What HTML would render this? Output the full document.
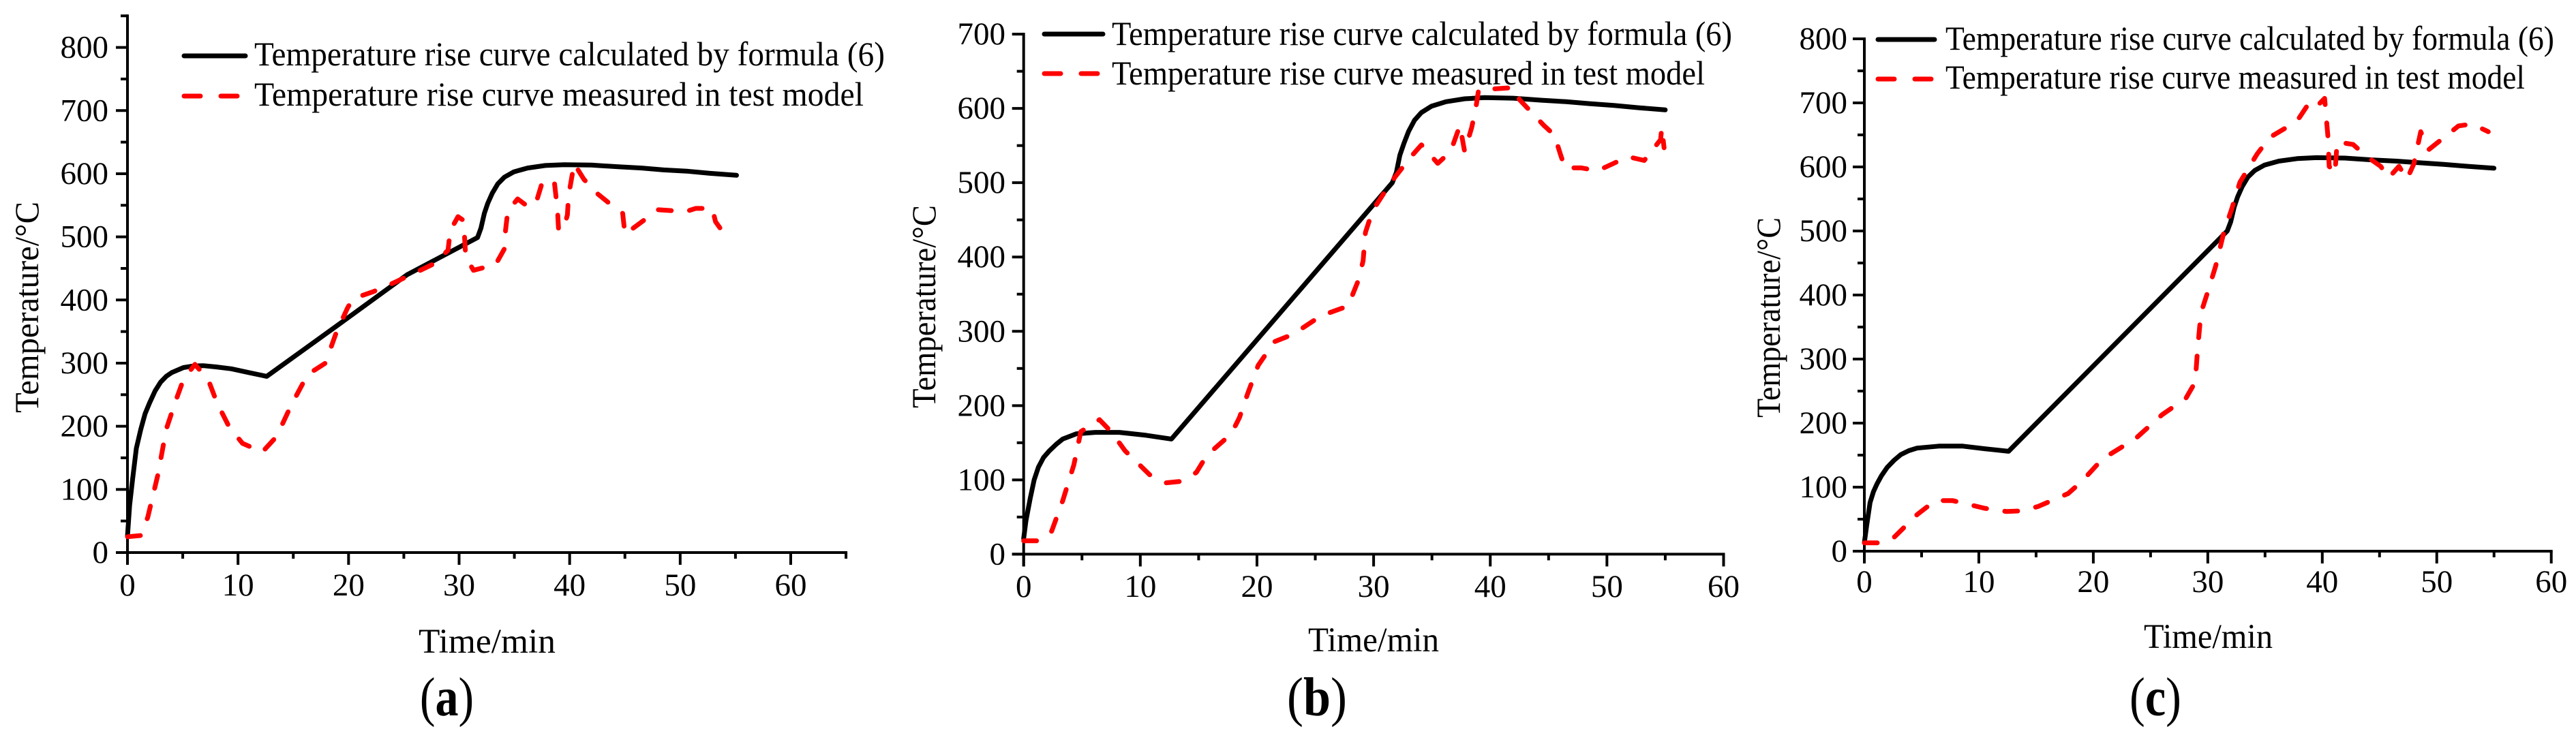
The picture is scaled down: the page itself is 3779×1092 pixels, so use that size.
<!DOCTYPE html>
<html lang="en">
<head>
<meta charset="utf-8">
<title>Temperature rise curves</title>
<style>
html,body{margin:0;padding:0;background:#fff;}
body{width:3779px;height:1092px;overflow:hidden;}
svg{display:block;position:absolute;left:0;top:0;}
text{font-family:"Liberation Serif","Times New Roman",serif;fill:#000;}
</style>
</head>
<body>
<svg id="figure" xmlns="http://www.w3.org/2000/svg" width="3779" height="1092" viewBox="0 0 3779 1092">
  <rect width="3779" height="1092" fill="#fff"/>

  <g id="panel-a">
    <text transform="translate(56,451) rotate(-90)" text-anchor="middle" font-size="50" textLength="310" lengthAdjust="spacingAndGlyphs">Temperature/°C</text>
    <text x="614" y="958" font-size="51" textLength="201" lengthAdjust="spacingAndGlyphs">Time/min</text>
    <line x1="270" y1="82" x2="360" y2="82" stroke="#000" stroke-width="7" stroke-linecap="round"/>
    <text x="373" y="96" font-size="50" textLength="925" lengthAdjust="spacingAndGlyphs">Temperature rise curve calculated by formula (6)</text>
    <line x1="270" y1="141" x2="360" y2="141" stroke="#f00" stroke-width="7" stroke-linecap="round" stroke-dasharray="24 30"/>
    <text x="373" y="155" font-size="50" textLength="894" lengthAdjust="spacingAndGlyphs">Temperature rise curve measured in test model</text>
    <text transform="translate(655.5,1050) scale(.85,1)" text-anchor="middle" font-size="80">(<tspan font-weight="bold">a</tspan>)</text>
  </g>

  <g id="panel-b">
    <text transform="translate(1372,450) rotate(-90)" text-anchor="middle" font-size="50" textLength="298" lengthAdjust="spacingAndGlyphs">Temperature/°C</text>
    <text x="1919" y="956" font-size="51" textLength="192" lengthAdjust="spacingAndGlyphs">Time/min</text>
    <line x1="1532" y1="50" x2="1618" y2="50" stroke="#000" stroke-width="7" stroke-linecap="round"/>
    <text x="1631" y="66" font-size="50" textLength="910" lengthAdjust="spacingAndGlyphs">Temperature rise curve calculated by formula (6)</text>
    <line x1="1532" y1="108" x2="1618" y2="108" stroke="#f00" stroke-width="7" stroke-linecap="round" stroke-dasharray="24 30"/>
    <text x="1631" y="124" font-size="50" textLength="870" lengthAdjust="spacingAndGlyphs">Temperature rise curve measured in test model</text>
    <text transform="translate(1932,1050) scale(.9,1)" text-anchor="middle" font-size="80">(<tspan font-weight="bold">b</tspan>)</text>
  </g>

  <g id="panel-c">
    <text transform="translate(2611,466) rotate(-90)" text-anchor="middle" font-size="50" textLength="294" lengthAdjust="spacingAndGlyphs">Temperature/°C</text>
    <text x="3145" y="951" font-size="51" textLength="189" lengthAdjust="spacingAndGlyphs">Time/min</text>
    <line x1="2755" y1="58" x2="2838" y2="58" stroke="#000" stroke-width="7" stroke-linecap="round"/>
    <text x="2854" y="73" font-size="50" textLength="893" lengthAdjust="spacingAndGlyphs">Temperature rise curve calculated by formula (6)</text>
    <line x1="2755" y1="116" x2="2838" y2="116" stroke="#f00" stroke-width="7" stroke-linecap="round" stroke-dasharray="24 30"/>
    <text x="2854" y="130" font-size="50" textLength="850" lengthAdjust="spacingAndGlyphs">Temperature rise curve measured in test model</text>
    <text transform="translate(3162,1050) scale(.855,1)" text-anchor="middle" font-size="80">(<tspan font-weight="bold">c</tspan>)</text>
  </g>
</svg>

<script>
// Tick labels
const xTicksAB = [0, 10, 20, 30, 40, 50, 60];
const yTicksA = [0, 100, 200, 300, 400, 500, 600, 700, 800];
const yTicksB = [0, 100, 200, 300, 400, 500, 600, 700];
const yTicksC = [0, 100, 200, 300, 400, 500, 600, 700, 800];

// Panel (a)
const calcTimeA = [0, 0.2, 0.46, 0.8, 1.2, 1.6, 2, 2.5, 3, 3.5, 4, 5.06, 6, 6.85, 8, 9.4, 11, 12.6, 19.1, 25.3, 31.67, 31.98, 32.28, 32.59, 33, 33.5, 34.1, 34.96, 36.2, 37.8, 39.5, 41.96, 44.4, 46.5, 48.5, 50.6, 52.7, 55.1];
const calcTempA = [26, 75, 116, 165, 195, 220, 237, 256, 270, 279, 285, 293, 295.5, 296, 294, 291, 285, 279, 361, 440, 499, 514, 537, 553, 569, 584, 594.5, 603, 609, 613, 614.3, 613.6, 611, 609, 606, 604, 600.6, 597.5];
const measTimeA = [0, 1.2, 1.84, 2.76, 3.5, 4.3, 5.06, 6.1, 7.3, 8.1, 9.2, 10.4, 12.2, 13.5, 14.8, 16.3, 17.9, 18.9, 19.9, 20.4, 22.2, 23.7, 26.5, 27.8, 29, 29.2, 29.9, 30.4, 30.5, 30.6, 31.3, 33.3, 34.1, 34.2, 34.4, 35.3, 36.3, 37, 37.5, 38.6, 38.9, 39, 39.5, 39.8, 39.9, 40.4, 41.3, 42.4, 43.6, 44.8, 45, 48, 50.5, 51.4, 52.9, 53.2, 54.1];
const measTempA = [25, 27, 56, 124, 195, 237, 274, 298, 274, 237, 199, 173, 159, 184, 233, 282, 300, 349, 387, 402, 413, 424, 447, 458, 479, 510, 532, 526, 498, 468, 447, 456, 481, 510, 541, 560, 547, 556, 585, 589, 543, 510, 515, 535, 564, 616, 591, 570, 553, 537, 504, 543, 540, 545, 545, 524, 502];

// Panel (b)
const calcTimeB = [0, 0.2, 0.56, 0.9, 1.26, 1.7, 2.2, 2.8, 3.35, 4.5, 6.15, 8.2, 10.5, 12.67, 31.6, 31.95, 32.25, 32.6, 33, 33.5, 34.1, 34.96, 36.2, 37.8, 39.5, 41.96, 44.4, 46.5, 48.5, 50.6, 52.7, 55];
const calcTempB = [21, 45, 75, 100, 117, 130, 139, 148, 155, 162, 164, 164, 160, 155, 500, 514, 537, 553, 569, 584, 594.5, 603, 609, 613, 614.5, 613.8, 611, 609, 606.5, 604, 601, 598];
const measTimeB = [0, 1.4, 2.4, 3.35, 4.3, 4.9, 6.5, 7.5, 8.7, 10.8, 12.2, 13.5, 14.8, 15.7, 17.8, 18.5, 19.2, 20.1, 21.5, 23.1, 25.5, 27.8, 28.7, 29.1, 29.3, 29.9, 30.8, 31.8, 33.2, 34.1, 35.5, 36.6, 37.4, 37.8, 38.4, 38.75, 39, 42, 42.5, 44.6, 45.5, 46, 46.4, 47.8, 49.2, 51.8, 53.2, 54.6, 54.7, 54.9];
const measTempB = [18, 18, 31, 72, 120, 165, 181, 165, 139, 107, 96, 98, 110, 133, 162, 184, 216, 254, 286, 296, 321, 334, 369, 395, 433, 462, 484, 507, 535, 551, 526, 542, 577, 542, 574, 599, 625, 628, 612, 577, 564, 539, 520, 520, 516, 535, 530, 558, 574, 547];

// Panel (c)
const calcTimeC = [0, 0.2, 0.5, 0.8, 1.1, 1.5, 2, 2.6, 3.2, 3.9, 4.6, 6.5, 8.6, 10.5, 12.6, 31.7, 32, 32.3, 32.6, 33, 33.5, 34.1, 34.96, 36.2, 37.8, 39.5, 41.96, 44.4, 46.5, 48.5, 50.6, 52.7, 55];
const calcTempC = [13, 40, 76, 93, 105, 118, 131, 142, 151, 157, 161, 164, 164, 160, 156, 500, 514, 537, 553, 569, 584, 594.5, 603, 609, 613, 614.5, 613.8, 611, 609, 606.5, 604, 601, 598];
const measTimeC = [0, 1.3, 2.5, 4.6, 6.2, 7.7, 10.5, 12.4, 13.8, 15.2, 17.8, 19, 20.8, 23.7, 26, 28.1, 28.9, 29.1, 29.4, 30, 30.7, 31.4, 32.1, 32.8, 34.3, 35.4, 37.1, 38, 39, 39.7, 40.2, 40.5, 40.6, 41.1, 41.3, 42.7, 43.9, 45.1, 45.8, 46.7, 47.4, 48, 48.6, 49.3, 51.9, 53.1, 54.5];
const measTempC = [13, 13, 20, 57, 79, 79, 67, 62, 63, 70, 90, 109, 144, 176, 213, 239, 264, 313, 372, 405, 446, 498, 535, 576, 620, 646, 664, 677, 704, 698, 707, 646, 601, 589, 639, 635, 616, 601, 583, 601, 581, 605, 655, 627, 664, 667, 655];

const SVGNS = 'http://www.w3.org/2000/svg';

function drawPanel(id, layout, xTicks, yTicks, calcT, calcV, measT, measV) {
  const host = document.getElementById(id);
  const xScale = v => layout.x0 + (v - 0) * (layout.x60 - layout.x0) / 60;
  const yScale = v => layout.y0 + (v - 0) * (layout.yRef - layout.y0) / layout.refValue;

  const axisStyle = (el) => {
    el.setAttribute('stroke', '#000');
    el.setAttribute('stroke-width', '4');
    host.appendChild(el);
  };

  const xAxis = document.createElementNS(SVGNS, 'line');
  
  
  xAxis.setAttribute('x1', layout.x0 - 17);
  xAxis.setAttribute('x2', xScale(layout.xMax) + 2);
  xAxis.setAttribute('y1', layout.y0);
  xAxis.setAttribute('y2', layout.y0);
  axisStyle(xAxis);

  const yAxis = document.createElementNS(SVGNS, 'line');
  
  
  yAxis.setAttribute('x1', layout.x0);
  yAxis.setAttribute('x2', layout.x0);
  yAxis.setAttribute('y1', layout.y0 + 18);
  yAxis.setAttribute('y2', yScale(layout.yMax) - 2);
  axisStyle(yAxis);

  // x ticks: labelled major ticks and minor ticks halfway between them
  for (let v = 0; v <= layout.xMax; v += 5) {
    const major = v % 10 === 0;
    const tick = document.createElementNS(SVGNS, 'line');
    
    
    tick.setAttribute('x1', xScale(v));
    tick.setAttribute('x2', xScale(v));
    tick.setAttribute('y1', layout.y0);
    tick.setAttribute('y2', layout.y0 + (major ? 18 : 9));
    axisStyle(tick);
  }
  xTicks.forEach(v => {
    const label = document.createElementNS(SVGNS, 'text');
    
    
    label.setAttribute('x', xScale(v));
    label.setAttribute('y', layout.xLabelY);
    label.setAttribute('text-anchor', 'middle');
    label.setAttribute('font-size', '47');
    label.textContent = v;
    host.appendChild(label);
  });

  // y ticks
  for (let v = 0; v <= layout.yMax; v += 50) {
    const major = v % 100 === 0;
    const tick = document.createElementNS(SVGNS, 'line');
    
    
    tick.setAttribute('x1', layout.x0 - (major ? 17 : 10));
    tick.setAttribute('x2', layout.x0);
    tick.setAttribute('y1', yScale(v));
    tick.setAttribute('y2', yScale(v));
    axisStyle(tick);
  }
  yTicks.forEach(v => {
    const label = document.createElementNS(SVGNS, 'text');
    
    
    label.setAttribute('x', layout.yLabelX);
    label.setAttribute('y', yScale(v) + 15);
    label.setAttribute('text-anchor', 'end');
    label.setAttribute('font-size', '47');
    label.textContent = v;
    host.appendChild(label);
  });

  // series
  const calcLine = document.createElementNS(SVGNS, 'polyline');
  
  
  calcLine.setAttribute('points', calcT.map((t, i) => xScale(t).toFixed(1) + ',' + yScale(calcV[i]).toFixed(1)).join(' '));
  calcLine.setAttribute('fill', 'none');
  calcLine.setAttribute('stroke', '#000');
  calcLine.setAttribute('stroke-width', '7');
  calcLine.setAttribute('stroke-linejoin', 'round');
  calcLine.setAttribute('stroke-linecap', 'round');
  host.appendChild(calcLine);

  const measLine = document.createElementNS(SVGNS, 'polyline');
  
  
  measLine.setAttribute('points', measT.map((t, i) => xScale(t).toFixed(1) + ',' + yScale(measV[i]).toFixed(1)).join(' '));
  measLine.setAttribute('fill', 'none');
  measLine.setAttribute('stroke', '#f00');
  measLine.setAttribute('stroke-width', '7');
  measLine.setAttribute('stroke-linejoin', 'round');
  measLine.setAttribute('stroke-linecap', 'round');
  measLine.setAttribute('stroke-dasharray', '19 27');
  host.appendChild(measLine);
}

drawPanel('panel-a', {x0: 187, x60: 1160, y0: 811, yRef: 69.6, refValue: 800, xMax: 65, yMax: 850, xLabelY: 874, yLabelX: 159},
  xTicksAB, yTicksA, calcTimeA, calcTempA, measTimeA, measTempA);
drawPanel('panel-b', {x0: 1501.7, x60: 2528.5, y0: 813.4, yRef: 50.1, refValue: 700, xMax: 60, yMax: 700, xLabelY: 876, yLabelX: 1475},
  xTicksAB, yTicksB, calcTimeB, calcTempB, measTimeB, measTempB);
drawPanel('panel-c', {x0: 2735, x60: 3742.7, y0: 809, yRef: 57, refValue: 800, xMax: 60, yMax: 800, xLabelY: 869, yLabelX: 2710},
  xTicksAB, yTicksC, calcTimeC, calcTempC, measTimeC, measTempC);
</script>
</body>
</html>
